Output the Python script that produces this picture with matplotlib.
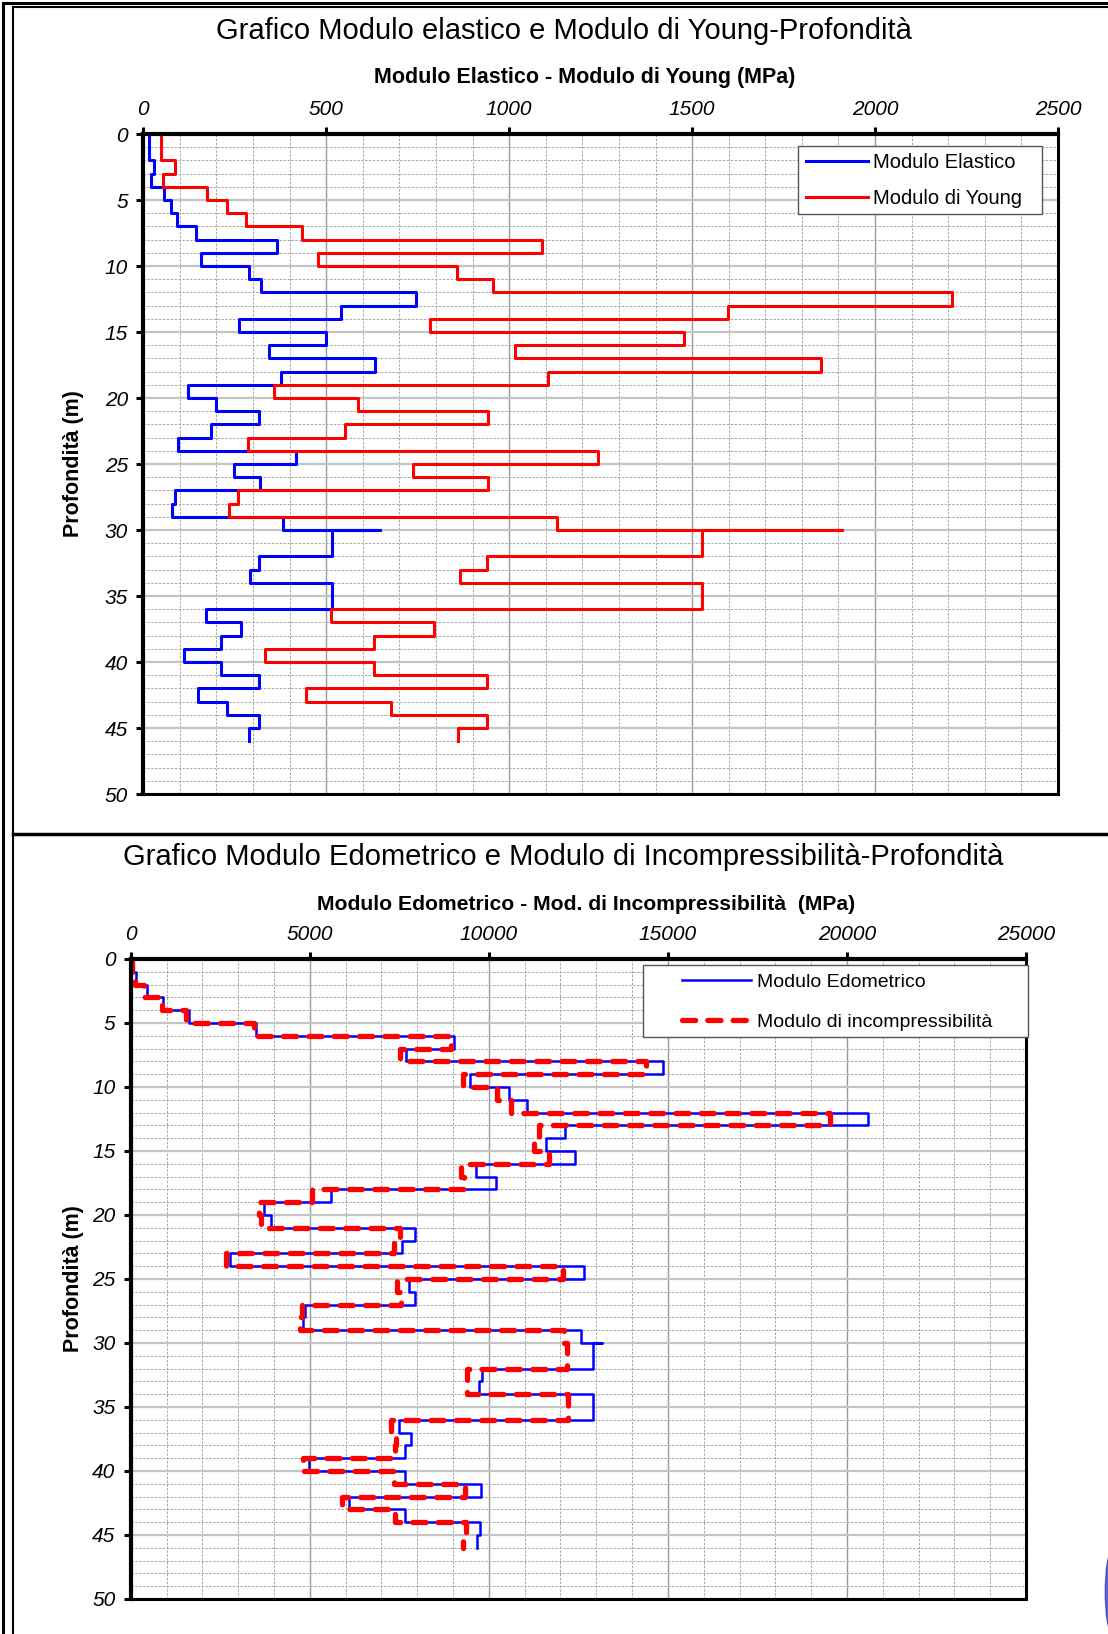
import numpy as np
import matplotlib
matplotlib.use("Agg")
import matplotlib.pyplot as plt
from matplotlib.lines import Line2D
from matplotlib.patches import Ellipse, Rectangle

plt.rcParams['font.family'] = ['Liberation Sans', 'DejaVu Sans']

W, H = 1108, 1634

# strati (profondità inizio / fine, m) - lo strato 30-30 è il picco
depth_top = [0, 1, 2, 3, 4, 5, 6, 7, 8, 9, 10, 11, 12, 13, 14, 15, 16, 17, 18, 19,
             20, 21, 22, 23, 24, 25, 26, 27, 28, 29, 30, 30, 32, 33, 34, 36, 37, 38,
             39, 40, 41, 42, 43, 44, 45]
depth_bot = [1, 2, 3, 4, 5, 6, 7, 8, 9, 10, 11, 12, 13, 14, 15, 16, 17, 18, 19, 20,
             21, 22, 23, 24, 25, 26, 27, 28, 29, 30, 30, 32, 33, 34, 36, 37, 38, 39,
             40, 41, 42, 43, 44, 45, 46]

# Modulo elastico / Young (MPa)
mod_elastico = [16, 16, 29, 20, 56, 77, 93, 145, 365, 159, 288, 321, 744, 539, 262,
                498, 343, 632, 377, 121, 198, 316, 185, 96, 418, 248, 318, 86, 78,
                381, 647, 515, 316, 291, 515, 172, 268, 211, 111, 211, 316, 150, 228,
                316, 288]
mod_young = [48, 48, 86, 55, 173, 229, 280, 434, 1091, 477, 857, 957, 2211, 1597, 784,
             1477, 1015, 1853, 1105, 357, 587, 941, 552, 286, 1244, 736, 942, 260, 235,
             1132, 1910, 1527, 940, 865, 1527, 513, 794, 631, 333, 631, 939, 446, 677,
             939, 860]

# Modulo edometrico / incompressibilità (MPa)
mod_edometrico = [56, 149, 447, 913, 1640, 3495, 9040, 7698, 14870, 9487, 10559, 11072,
                  20600, 12125, 11603, 12395, 9655, 10205, 5601, 3709, 3924, 7931, 7577,
                  2777, 12656, 7782, 7950, 4874, 4809, 12582, 13150, 12908, 9814, 9720,
                  12908, 7484, 7838, 7651, 4986, 7651, 9786, 6086, 7670, 9767, 9674]
mod_incompr = [50, 120, 380, 885, 1547, 3430, 8950, 7510, 14400, 9282, 10233, 10606,
               19530, 11390, 11270, 11680, 9210, 9320, 5060, 3570, 3635, 7530, 7344,
               2665, 12070, 7437, 7550, 4781, 4734, 12100, 12100, 12180, 9380, 9380,
               12205, 7279, 7418, 7390, 4809, 7344, 9340, 5900, 7390, 9360, 9280]


def step_xy(vals):
    xs, ys = [], []
    for t, b, v in zip(depth_top, depth_bot, vals):
        xs += [v, v]
        ys += [t, b]
    return xs, ys


def fx(px):
    return px / W


def fy(py):
    return 1 - py / H


fig = plt.figure(figsize=(W / 100, H / 100), dpi=100)


def make_axes(left, right, top, bottom, xmax, xmaj, xmin):
    ax = fig.add_axes([fx(left), fy(bottom), fx(right - left), (bottom - top) / H])
    ax.set_xlim(0, xmax)
    ax.set_ylim(50, 0)
    ax.xaxis.tick_top()
    ax.set_xticks(np.arange(0, xmax + 1, xmaj))
    ax.set_xticks(np.arange(0, xmax + 1, xmin), minor=True)
    ax.set_yticks(np.arange(0, 51, 5))
    ax.set_yticks(np.arange(0, 51, 1), minor=True)
    ax.grid(which='minor', color='#a6a6a6', lw=0.7, ls=(0, (2.5, 1.5)))
    ax.grid(which='major', axis='x', color='#9a9a9a', lw=1.0, ls='-')
    ax.grid(which='major', axis='y', color='#c4c4c4', lw=1.6, ls='-')
    ax.set_axisbelow(True)
    ax.tick_params(which='major', direction='out', length=5, width=2.2,
                   labelsize=15, pad=6)
    ax.tick_params(which='minor', length=0)
    for lab in ax.get_xticklabels() + ax.get_yticklabels():
        lab.set_style('italic')
    for s in ['top', 'left']:
        ax.spines[s].set_linewidth(3.0)
    for s in ['bottom', 'right']:
        ax.spines[s].set_linewidth(2.2)
    ax.set_ylabel('Profondità (m)', fontsize=15.5, fontweight='bold')
    ax.yaxis.set_label_coords((84 - left) / (right - left), 0.5)
    return ax


def legend_box(ax, x0, y0, x1, y1):
    ax.add_patch(Rectangle((fx(x0), fy(y1)), fx(x1 - x0), (y1 - y0) / H,
                           transform=fig.transFigure, facecolor='white',
                           edgecolor='#555555', lw=1.0, zorder=4, clip_on=False))


# ---- grafico 1 ----
ax1 = make_axes(143.3, 1058, 134, 794, 2500, 500, 100)
x, y = step_xy(mod_elastico)
ax1.plot(x, y, color='#0000ff', lw=2.2, label='Modulo Elastico')
x, y = step_xy(mod_young)
ax1.plot(x, y, color='#ff0000', lw=2.2, label='Modulo di Young')
legend_box(ax1, 798, 146, 1042, 214)
ax1.legend(loc='upper left', bbox_to_anchor=(fx(806), fy(153)),
           bbox_transform=fig.transFigure, fontsize=14.5, frameon=False,
           handlelength=3.1, handletextpad=0.22, labelspacing=0.85,
           borderpad=0, borderaxespad=0)

# ---- grafico 2 ----
ax2 = make_axes(130.7, 1026, 959, 1599, 25000, 5000, 1000)
x, y = step_xy(mod_edometrico)
ax2.plot(x, y, color='#0000ff', lw=1.8, label='Modulo Edometrico')
x, y = step_xy(mod_incompr)
ax2.plot(x, y, color='#ff0000', lw=3.8, ls=(0, (2.5, 2.3)),
         dash_capstyle='round', label='Modulo di incompressibilità')
legend_box(ax2, 643, 965, 1028, 1037)
ax2.legend(loc='upper left', bbox_to_anchor=(fx(682), fy(973)),
           bbox_transform=fig.transFigure, fontsize=14, frameon=False,
           handlelength=3.55, handletextpad=0.3, labelspacing=1.15,
           borderpad=0, borderaxespad=0)

# ---- titoli ----
fig.text(fx(564), fy(31), 'Grafico Modulo elastico e Modulo di Young-Profondità',
         ha='center', va='center', fontsize=21)
fig.text(fx(563), fy(857),
         'Grafico Modulo Edometrico e Modulo di Incompressibilità-Profondità',
         ha='center', va='center', fontsize=21)
fig.text(fx(585), fy(77), 'Modulo Elastico - Modulo di Young (MPa)',
         ha='center', va='center', fontsize=15.5, fontweight='bold')
fig.text(fx(586), fy(904), 'Modulo Edometrico - Mod. di Incompressibilità  (MPa)',
         ha='center', va='center', fontsize=15.2, fontweight='bold')

# ---- cornice ----
fig.add_artist(Line2D([fx(3.5), fx(3.5)], [0, fy(3)], color='black', lw=2.2))
fig.add_artist(Line2D([fx(12.5), fx(12.5)], [0, fy(7)], color='black', lw=1.5))
fig.add_artist(Line2D([fx(3.5), 1], [fy(3), fy(3)], color='black', lw=2.2))
fig.add_artist(Line2D([fx(12.5), 1], [fy(7), fy(7)], color='black', lw=1.5))
fig.add_artist(Line2D([fx(12.5), 1], [fy(834), fy(834)], color='black', lw=2.5))

# frammento del logo in basso a destra
fig.add_artist(Ellipse((fx(1112), fy(1592)), 0.012, 0.05, transform=fig.transFigure,
                       color='#3a3ad0', alpha=0.8))

fig.savefig('out.png', dpi=100)
